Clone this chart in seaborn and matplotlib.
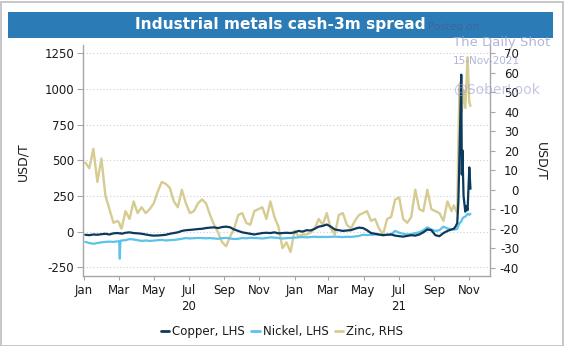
import matplotlib
matplotlib.use('Agg')
import matplotlib.pyplot as plt
import matplotlib.dates as mdates
import matplotlib.transforms as mtransforms
from matplotlib.patches import Rectangle
from matplotlib.lines import Line2D
import seaborn as sns
import pandas as pd

# ---------------- data ----------------
weekly_dates = pd.date_range('2020-01-03', periods=92, freq='7D')
spike_dates = pd.to_datetime(['2021-10-05', '2021-10-08', '2021-10-11', '2021-10-13',
                              '2021-10-15', '2021-10-18', '2021-10-19', '2021-10-20',
                              '2021-10-22', '2021-10-25', '2021-10-27', '2021-10-29',
                              '2021-11-01', '2021-11-03'])
# a few extra daily readings around the short nickel dip in early March 2020
dip_dates = pd.to_datetime(['2020-03-02', '2020-03-03', '2020-03-04'])

copper_weekly = [-22, -25, -20, -22, -18, -15, -20, -12, -10, -15,
                 -8, -5, -10, -12, -15, -20, -25, -28, -27, -25,
                 -22, -15, -10, -5, 5, 10, 12, 15, 18, 20,
                 25, 28, 30, 25, 32, 35, 30, 15, 5, -5,
                 -10, -15, -20, -15, -10, -8, -10, -5, -12, -10,
                 -8, -10, -5, 5, 0, 10, 8, 20, 35, 40,
                 50, 35, 15, 10, 5, 8, 10, 20, 28, 25,
                 10, -10, -15, -20, -25, -22, -20, -28, -32, -35,
                 -30, -25, -28, -20, -5, 15, 10, -25, -32, -10,
                 5, 15]
copper_spike = [20, 35, 60, 210, 550, 1100, 400, 570, 250, 140, 180, 150, 450, 300]
copper_dip = [-12, -12, -11]

nickel_weekly = [-72, -80, -85, -80, -75, -72, -70, -72, -68, -62,
                 -60, -52, -55, -60, -65, -62, -65, -63, -60, -58,
                 -62, -60, -58, -55, -50, -45, -48, -46, -44, -45,
                 -47, -45, -48, -50, -46, -44, -48, -52, -50, -45,
                 -47, -43, -45, -46, -48, -45, -40, -42, -45, -48,
                 -46, -44, -42, -40, -38, -40, -38, -36, -38, -37,
                 -38, -36, -35, -37, -38, -36, -37, -34, -30, -22,
                 -24, -22, -20, -22, -24, -22, -20, 5, -8, -15,
                 -20, -18, -10, -5, 10, 30, 15, 5, 10, 35,
                 22, 15]
nickel_spike = [15, 15, 20, 40, 60, 70, 80, 90, 100, 105, 115, 125, 118, 125]
nickel_dip = [-68, -190, -64]

zinc_weekly = [14, 11, 21, 4, 16, -3, -10, -17, -16, -20,
               -11, -15, -6, -12, -9, -12, -10, -7, -1, 4,
               3, 1, -6, -9, 0, -7, -12, -11, -7, -5,
               -7, -13, -18, -22, -27, -29, -24, -20, -13, -12,
               -17, -18, -11, -10, -9, -15, -6, -14, -19, -30,
               -27, -32, -21, -24, -23, -23, -22, -20, -15, -18,
               -12, -20, -23, -13, -12, -18, -20, -16, -13, -12,
               -11, -16, -15, -20, -23, -15, -14, -5, -4, -15,
               -17, -14, 0, -10, -11, 0, -10, -11, -12, -16,
               -6, -11]
zinc_spike = [-8, -10, -12, 25, 54, 56, 40, 45, 51, 42, 55, 68, 45, 43]
zinc_dip = [-17, -18, -19]

left_ticks = [-250, 0, 250, 500, 750, 1000, 1250]
right_ticks = [-40, -30, -20, -10, 0, 10, 20, 30, 40, 50, 60, 70]
series_labels = ['Copper, LHS', 'Nickel, LHS', 'Zinc, RHS']
year_labels = ['20', '21']

# ---------------- style ----------------
sns.set_theme(style='white')
plt.rcParams['font.family'] = ['DejaVu Sans']
plt.rcParams['axes.unicode_minus'] = False

c_copper = '#0c3a5c'
c_nickel = '#5bc2ea'
c_zinc = '#d6cb91'
c_spine = '#a6a6a6'
c_text = '#1a1a1a'

df = pd.DataFrame({
    'date': list(weekly_dates) + list(spike_dates) + list(dip_dates),
    'Copper': copper_weekly + copper_spike + copper_dip,
    'Nickel': nickel_weekly + nickel_spike + nickel_dip,
    'Zinc': zinc_weekly + zinc_spike + zinc_dip,
}).sort_values('date').reset_index(drop=True)

W, H = 564, 346
fig = plt.figure(figsize=(W / 100, H / 100), dpi=100)
fig.patch.set_facecolor('white')

# outer border
fig.patches.append(Rectangle((0.5 / W, 0.5 / H), (W - 2) / W, (H - 2) / H,
                             transform=fig.transFigure, fill=False,
                             edgecolor='#bdbdbd', lw=1.2))
# title bar
fig.patches.append(Rectangle((8 / W, 1 - 37.7 / H), (553 - 8) / W, 26 / H,
                             transform=fig.transFigure, facecolor='#2a7bb6',
                             edgecolor='none'))
fig.text(280.5 / W, 1 - 24.7 / H, 'Industrial metals cash-3m spread',
         color='white', fontweight='bold', fontsize=11.1, ha='center', va='center')

ax = fig.add_axes([83 / W, 1 - 276 / H, (490 - 83) / W, (276 - 45) / H])
ax2 = ax.twinx()
ax.set_zorder(ax2.get_zorder() + 1)
ax.patch.set_visible(False)
ax2.set_facecolor('white')

sns.lineplot(data=df, x='date', y='Zinc', ax=ax2, color=c_zinc, lw=1.7, legend=False)
sns.lineplot(data=df, x='date', y='Nickel', ax=ax, color=c_nickel, lw=1.6, legend=False)
sns.lineplot(data=df, x='date', y='Copper', ax=ax, color=c_copper, lw=1.6, legend=False)

ax.set_xlim(pd.Timestamp('2019-12-30'), pd.Timestamp('2021-12-07'))
ax.set_ylim(-311, 1308)
ax2.set_ylim(-44.3, 74.3)
ax.set_yticks(left_ticks)
ax2.set_yticks(right_ticks)
ax.set_xlabel('')
ax.set_ylabel('')
ax2.set_ylabel('')

ax.xaxis.set_major_locator(mdates.MonthLocator(bymonth=[1, 3, 5, 7, 9, 11]))
ax.xaxis.set_major_formatter(mdates.DateFormatter('%b'))

for a in (ax, ax2):
    for s in a.spines.values():
        s.set_color(c_spine)
        s.set_linewidth(1.0)
    a.spines['top'].set_visible(False)
ax.spines['right'].set_visible(False)
ax2.spines['left'].set_visible(False)
ax2.spines['bottom'].set_visible(False)

ax.tick_params(axis='y', left=True, length=4.3, width=0.8, color=c_spine,
               pad=2.2, labelsize=8.5, labelcolor=c_text)
ax.tick_params(axis='x', bottom=True, length=3, width=0.8, color=c_spine,
               pad=3, labelsize=8.5, labelcolor=c_text)
ax2.tick_params(axis='y', right=True, length=3.6, width=0.8, color=c_spine,
                pad=17.3, labelsize=8.5, labelcolor=c_text)
plt.setp(ax2.get_yticklabels(), ha='right')

ax.yaxis.grid(True, linestyle=(0, (1, 2)), color='#cfcfcf', lw=0.8)
ax.xaxis.grid(False)
ax2.grid(False)

# year labels
trans = mtransforms.blended_transform_factory(ax.transData, ax.transAxes)
for yl, d in zip(year_labels, ['2020-07-01', '2021-07-01']):
    ax.text(mdates.date2num(pd.Timestamp(d)), -(306.7 - 276) / 231, yl,
            transform=trans, ha='center', va='center', fontsize=8.5, color=c_text)

# axis titles
fig.text(23 / W, 1 - 161.7 / H, 'USD/T', rotation=90, ha='center', va='center',
         fontsize=9, color=c_text)
fig.text(541 / W, 1 - 161.7 / H, 'USD/T', rotation=270, ha='center', va='center',
         fontsize=9, color=c_text)

# watermark
wm = '#9ea3cf'
fig.text(428 / W, 1 - 26.7 / H, 'Posted on', fontsize=7.5, color='#3f66a0',
         ha='left', va='center')
fig.text(452.7 / W, 1 - 42.7 / H, 'The Daily Shot', fontsize=9.5, color=wm,
         ha='left', va='center', alpha=0.8)
fig.text(452.7 / W, 1 - 61 / H, '15-Nov-2021', fontsize=7.5, color=wm,
         ha='left', va='center', alpha=0.8)
fig.text(452.7 / W, 1 - 90 / H, '@SoberLook', fontsize=10, color=wm,
         ha='left', va='center', alpha=0.6)

# legend
handles = [Line2D([0], [0], color=c, lw=2) for c in (c_copper, c_nickel, c_zinc)]
fig.legend(handles, series_labels, loc='center', bbox_to_anchor=(282 / W, 1 - 331.7 / H),
           ncol=3, frameon=False, handlelength=0.75, handletextpad=0.25,
           columnspacing=0.5, fontsize=8.5, labelcolor=c_text)

fig.savefig('out.png', dpi=100)
